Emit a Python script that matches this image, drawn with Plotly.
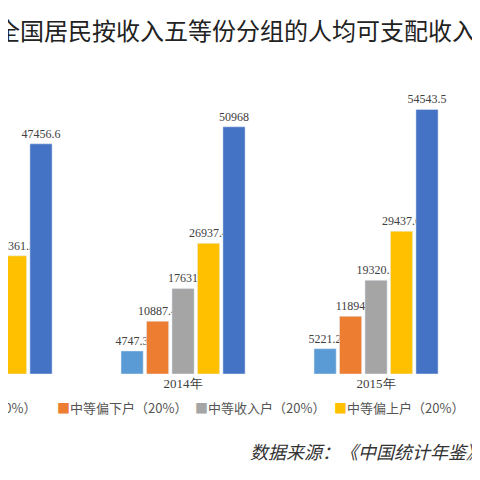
import plotly.graph_objects as go

years = [2013, 2014, 2015, 2016]
year_labels = ["2013年", "2014年", "2015年", "2016年"]
series_names = ["低收入户（20%）", "中等偏下户（20%）", "中等收入户（20%）", "中等偏上户（20%）", "高收入户（20%）"]
low = [4402.4, 4747.3, 5221.2, 5528.7]
lower_mid = [9653.7, 10887.4, 11894, 12898.9]
mid = [15698, 17631, 19320.1, 20924.4]
upper_mid = [24361.2, 26937.4, 29437.6, 31990.4]
high = [47456.6, 50968, 54543.5, 59259.5]
colors = ["#5B9BD5", "#ED7D31", "#A5A5A5", "#FFC000", "#4472C4"]

fig = go.Figure()
for name, vals, c in zip(series_names, [low, lower_mid, mid, upper_mid, high], colors):
    fig.add_bar(x=years, y=vals, name=name, marker_color=c,
                text=[f"{v:g}" for v in vals], textposition="outside", constraintext="none",
                textfont=dict(family="Liberation Serif", size=12, color="#404040"),
                cliponaxis=False)

fig.update_layout(
    width=480, height=480, barmode="group", bargap=0.34, bargroupgap=0.13,
    margin=dict(l=0, r=0, t=58, b=114),
    plot_bgcolor="white", paper_bgcolor="white", showlegend=False,
    xaxis=dict(range=[2013.093, 2015.58], tickvals=years, ticktext=year_labels,
               showline=False, ticks="", tickfont=dict(family="Liberation Serif", size=13, color="#404040")),
    yaxis=dict(range=[0, 63500], visible=False),
)
fig.add_annotation(text="全国居民按收入五等份分组的人均可支配收入（元）", xref="paper", yref="paper",
                   x=-0.03, y=1.12, xanchor="left", yanchor="middle", showarrow=False,
                   font=dict(family="Noto Sans CJK SC", size=24, color="#222"))
for i, (name, c) in enumerate(zip(series_names, colors)):
    x0 = -0.19 + i * 0.288
    fig.add_annotation(text=f"<span style='color:{c}'>■</span>{name}", xref="paper", yref="paper",
                       x=x0, y=-0.11, xanchor="left", yanchor="middle", showarrow=False,
                       font=dict(family="Noto Sans CJK SC", size=13, color="#555"))
fig.add_annotation(text="<i>数据来源：《中国统计年鉴》，苏宁金融研究院</i>", xref="paper", yref="paper",
                   x=0.5, y=-0.25, xanchor="left", yanchor="middle", showarrow=False,
                   font=dict(family="Noto Sans CJK SC", size=18, color="#333"))
fig.write_html("out.html")
